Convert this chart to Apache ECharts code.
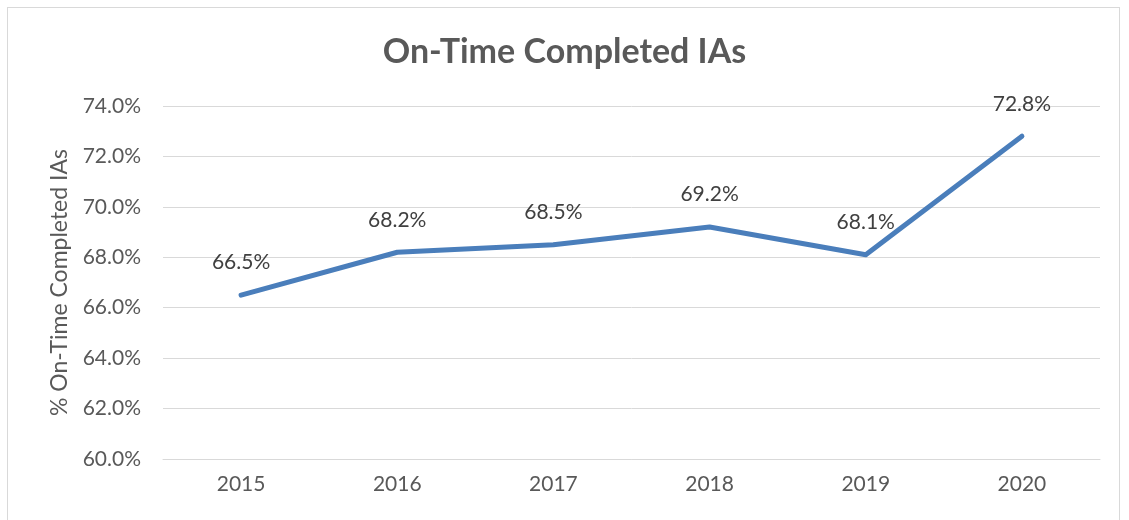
<!DOCTYPE html>
<html>
<head>
<meta charset="utf-8">
<script src="https://cdn.jsdelivr.net/npm/echarts@6/dist/echarts.min.js"></script>
<style>
  html, body { margin: 0; padding: 0; background: #fff; }
  #frame { position: absolute; left: 7px; top: 7px; width: 1113px; height: 520px; border: 1px solid #d9d9d9; box-sizing: border-box; }
  #chart { position: absolute; left: 0; top: 0; width: 1129px; height: 520px; }
</style>
</head>
<body>
<div id="frame"></div>
<div id="chart"></div>
<script>
var years = ['2015', '2016', '2017', '2018', '2019', '2020'];
var onTimePct = [66.5, 68.2, 68.5, 69.2, 68.1, 72.8];
var font = 'Lato, "Open Sans", sans-serif';

var chart = echarts.init(document.getElementById('chart'));
chart.setOption({
  animation: false,
  title: {
    text: 'On-Time Completed IAs',
    left: 'center',
    top: 30,
    textStyle: { fontFamily: font, fontSize: 34, fontWeight: 'bold', color: '#595959' }
  },
  grid: { left: 163, right: 29, top: 106, bottom: 61 },
  xAxis: {
    type: 'category',
    data: years,
    boundaryGap: true,
    axisLine: { show: true, lineStyle: { color: '#d9d9d9', width: 1 } },
    axisTick: { show: false },
    axisLabel: { fontFamily: font, fontSize: 21, color: '#595959', margin: 15 }
  },
  yAxis: {
    type: 'value',
    min: 60,
    max: 74,
    interval: 2,
    name: '% On-Time Completed IAs',
    nameLocation: 'middle',
    nameGap: 92,
    nameTextStyle: { fontFamily: font, fontSize: 23, color: '#595959' },
    axisLine: { show: false },
    axisTick: { show: false },
    splitLine: { lineStyle: { color: '#d9d9d9', width: 1 } },
    axisLabel: {
      fontFamily: font, fontSize: 21, color: '#595959', margin: 22,
      formatter: function (v) { return v.toFixed(1) + '%'; }
    }
  },
  series: [{
    type: 'line',
    data: onTimePct,
    symbol: 'circle',
    symbolSize: 4,
    showSymbol: true,
    itemStyle: { color: '#4a7ebb' },
    lineStyle: { color: '#4a7ebb', width: 5, cap: 'round', join: 'round' },
    label: {
      show: true,
      position: 'top',
      distance: 20,
      fontFamily: font,
      fontSize: 21,
      color: '#404040',
      formatter: function (p) { return p.value.toFixed(1) + '%'; }
    }
  }]
});
</script>
</body>
</html>
